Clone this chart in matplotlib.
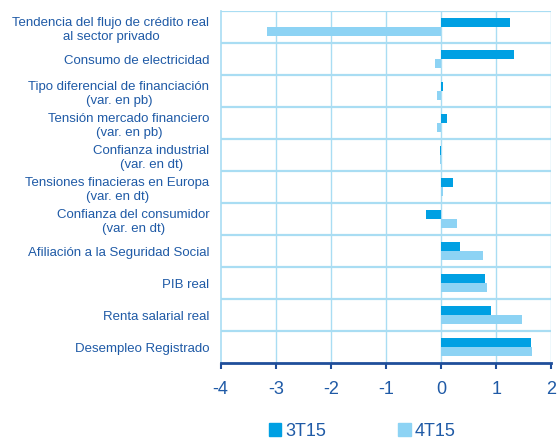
import matplotlib
matplotlib.use("Agg")
import matplotlib.pyplot as plt
import numpy as np
from matplotlib.patches import Patch

categories = [
    "Tendencia del flujo de crédito real\nal sector privado",
    "Consumo de electricidad",
    "Tipo diferencial de financiación\n(var. en pb)",
    "Tensión mercado financiero\n(var. en pb)",
    "Confianza industrial\n(var. en dt)",
    "Tensiones finacieras en Europa\n(var. en dt)",
    "Confianza del consumidor\n(var. en dt)",
    "Afiliación a la Seguridad Social",
    "PIB real",
    "Renta salarial real",
    "Desempleo Registrado",
]
s3t15 = [1.25, 1.33, 0.04, 0.11, -0.02, 0.22, -0.27, 0.35, 0.79, 0.90, 1.63]
s4t15 = [-3.15, -0.11, -0.07, -0.07, -0.02, 0.03, 0.28, 0.76, 0.83, 1.47, 1.64]
series_names = ["3T15", "4T15"]
xticks = [-4, -3, -2, -1, 0, 1, 2]

c3 = "#00A0E3"
c4 = "#8DD3F4"
txt = "#1F5AA6"
grid = "#A9DDF3"
dark = "#1F4E9A"

plt.rcParams['font.family'] = ['Liberation Sans', 'DejaVu Sans']

fig = plt.figure(figsize=(5.57, 4.44), dpi=100)
ax = fig.add_axes([0.396, 0.182, 0.594, 0.793])

y = np.arange(len(categories))
h = 0.28
ax.barh(y - h/2, s3t15, height=h, color=c3, zorder=3)
ax.barh(y + h/2, s4t15, height=h, color=c4, zorder=3)

ax.set_xlim(-4, 2)
ax.set_ylim(len(categories) - 0.5, -0.5)
ax.set_xticks(xticks)
ax.set_xticklabels([str(t) for t in xticks], fontsize=13, color=txt)
ax.set_yticks(y)
ax.set_yticklabels(categories, fontsize=9.5, color=txt, linespacing=1.3)
for lab in ax.get_yticklabels():
    lab.set_multialignment('center')
ax.tick_params(axis='y', length=0, pad=8)
ax.tick_params(axis='x', direction='out', length=4, width=1.5, color=dark, pad=9)

for b in np.arange(-0.5, len(categories) - 0.5, 1.0):
    ax.axhline(b, color=grid, lw=1.6, zorder=1)
for t in xticks[1:]:
    ax.axvline(t, color=grid, lw=1.0, zorder=1)

for s in ['top', 'right']:
    ax.spines[s].set_visible(False)
ax.spines['left'].set_color(grid)
ax.spines['left'].set_linewidth(1.2)
ax.spines['bottom'].set_color(dark)
ax.spines['bottom'].set_linewidth(2)

handles = [Patch(color=c3), Patch(color=c4)]
fig.legend(handles, series_names, loc='center', bbox_to_anchor=(0.65, 0.028), ncol=2,
           frameon=False, fontsize=13, labelcolor=txt, handlelength=0.7, handleheight=0.7,
           handletextpad=0.2, columnspacing=4)

fig.savefig("out.png", dpi=100)
